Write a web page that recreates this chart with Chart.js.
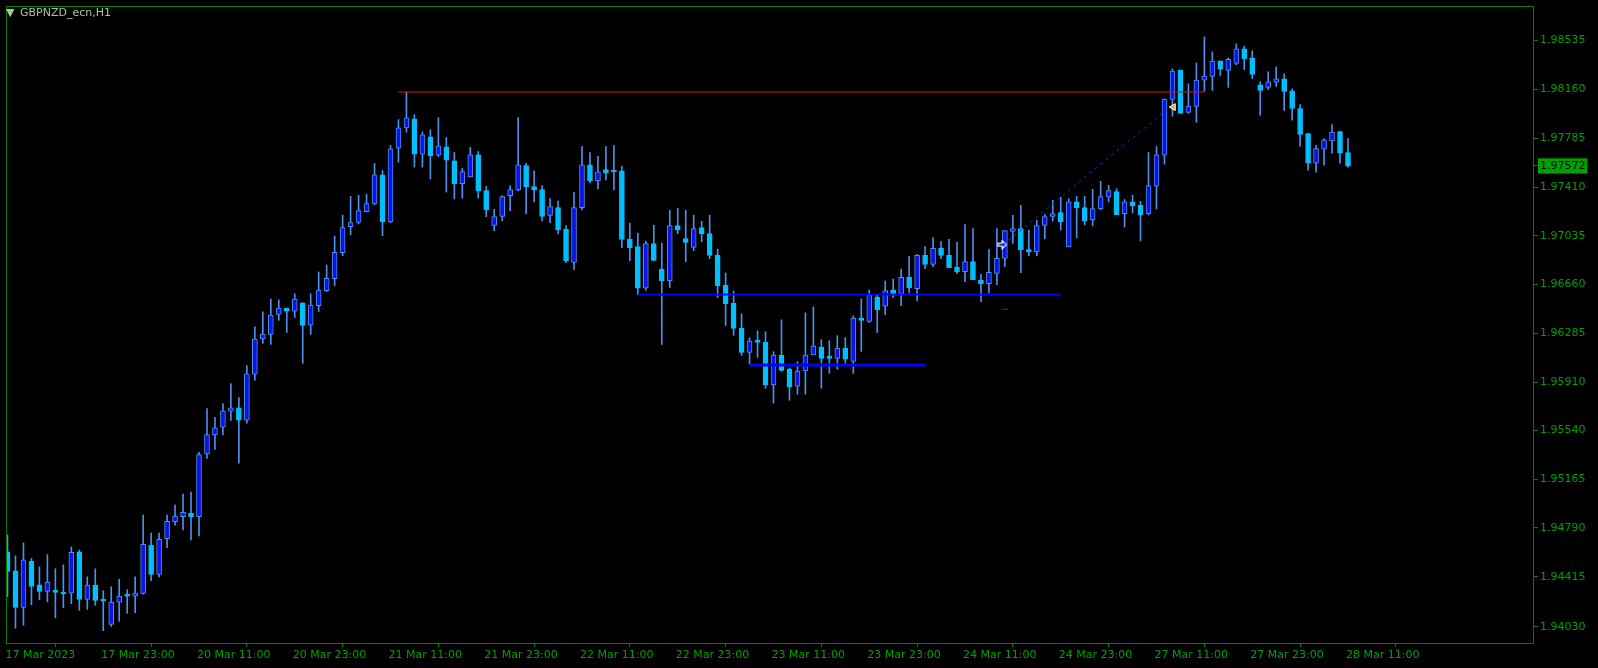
<!DOCTYPE html>
<html>
<head>
<meta charset="utf-8">
<script src="https://cdn.jsdelivr.net/npm/chart.js@4.4.0/dist/chart.umd.min.js"></script>
<style>
  html, body { margin: 0; padding: 0; background: #000; }
  #c { display: block; }
</style>
</head>
<body>
<canvas id="c" width="1598" height="668"></canvas>
<script>
// GBPNZD H1 candles, 17 Mar 11:00 -> 28 Mar 11:00
const opens = [
  1.94606, 1.94460, 1.94179, 1.94534, 1.94353, 1.94302, 1.94312, 1.94292, 1.94289, 1.94606, 1.94241, 1.94350,
  1.94238, 1.94049, 1.94220, 1.94276, 1.94266, 1.94287, 1.94659, 1.94432, 1.94708, 1.94838, 1.94876, 1.94902,
  1.94876, 1.95359, 1.95504, 1.95565, 1.95688, 1.95713, 1.95619, 1.95971, 1.96242, 1.96277, 1.96430, 1.96479,
  1.96456, 1.96520, 1.96349, 1.96499, 1.96614, 1.96706, 1.96905, 1.97106, 1.97137, 1.97221, 1.97280, 1.97504,
  1.97142, 1.97708, 1.97864, 1.97933, 1.97662, 1.97795, 1.97655, 1.97719, 1.97611, 1.97436, 1.97487, 1.97658,
  1.97382, 1.97114, 1.97183, 1.97344, 1.97387, 1.97574, 1.97413, 1.97390, 1.97191, 1.97252, 1.97084, 1.96831,
  1.97252, 1.97581, 1.97456, 1.97543, 1.97535, 1.97535, 1.97007, 1.96953, 1.96632, 1.96976, 1.96777, 1.96690,
  1.97114, 1.97014, 1.96945, 1.97099, 1.97053, 1.96884, 1.96654, 1.96517, 1.96325, 1.96139, 1.96226, 1.96218,
  1.95889, 1.96119, 1.96011, 1.95879, 1.95996, 1.96119, 1.96180, 1.96106, 1.96093, 1.96172, 1.96070, 1.96402,
  1.96377, 1.96565, 1.96494, 1.96619, 1.96591, 1.96716, 1.96629, 1.96884, 1.96815, 1.96938, 1.96884, 1.96792,
  1.96759, 1.96836, 1.96693, 1.96667, 1.96746, 1.96861, 1.97068, 1.97091, 1.96930, 1.96912, 1.97114, 1.97183,
  1.97213, 1.96950, 1.97297, 1.97251, 1.97157, 1.97241, 1.97333, 1.97374, 1.97205, 1.97297, 1.97269, 1.97203,
  1.97417, 1.97655, 1.98083, 1.98308, 1.97984, 1.98030, 1.98231, 1.98259, 1.98379, 1.98305, 1.98359, 1.98471,
  1.98402, 1.98196, 1.98175, 1.98216, 1.98242, 1.98150, 1.98012, 1.97821, 1.97593, 1.97701, 1.97764, 1.97836,
  1.97675
];
const highs = [
  1.94736, 1.94575, 1.94675, 1.94555, 1.94491, 1.94585, 1.94476, 1.94506, 1.94644, 1.94620, 1.94414, 1.94476,
  1.94307, 1.94338, 1.94396, 1.94315, 1.94414, 1.94889, 1.94751, 1.94751, 1.94889, 1.94966, 1.95050, 1.95065,
  1.95371, 1.95708, 1.95639, 1.95746, 1.95900, 1.95792, 1.96037, 1.96336, 1.96451, 1.96550, 1.96543, 1.96479,
  1.96589, 1.96520, 1.96589, 1.96757, 1.96811, 1.97033, 1.97194, 1.97338, 1.97346, 1.97354, 1.97591, 1.97537,
  1.97729, 1.97928, 1.98140, 1.97966, 1.97833, 1.97851, 1.97943, 1.97790, 1.97675, 1.97553, 1.97714, 1.97683,
  1.97415, 1.97239, 1.97344, 1.97420, 1.97944, 1.97591, 1.97535, 1.97420, 1.97321, 1.97301, 1.97114, 1.97369,
  1.97721, 1.97675, 1.97645, 1.97721, 1.97729, 1.97568, 1.97132, 1.97055, 1.96994, 1.97116, 1.96979, 1.97231,
  1.97247, 1.97231, 1.97193, 1.97147, 1.97193, 1.96933, 1.96749, 1.96611, 1.96435, 1.96251, 1.96305, 1.96297,
  1.96144, 1.96389, 1.96016, 1.96068, 1.96443, 1.96489, 1.96236, 1.96229, 1.96267, 1.96252, 1.96420, 1.96550,
  1.96619, 1.96581, 1.96688, 1.96703, 1.96780, 1.96877, 1.96892, 1.96953, 1.97022, 1.96991, 1.97007, 1.96984,
  1.97122, 1.97091, 1.96739, 1.96930, 1.97091, 1.97076, 1.97193, 1.97269, 1.97078, 1.97154, 1.97200, 1.97308,
  1.97331, 1.97320, 1.97338, 1.97338, 1.97392, 1.97453, 1.97422, 1.97397, 1.97313, 1.97346, 1.97300, 1.97675,
  1.97721, 1.98088, 1.98318, 1.98308, 1.98203, 1.98364, 1.98563, 1.98448, 1.98379, 1.98402, 1.98510, 1.98492,
  1.98456, 1.98219, 1.98295, 1.98333, 1.98280, 1.98165, 1.98043, 1.97821, 1.97731, 1.97782, 1.97889, 1.97836,
  1.97782
];
const lows = [
  1.94261, 1.94019, 1.94042, 1.94200, 1.94238, 1.94223, 1.94100, 1.94177, 1.94208, 1.94157, 1.94164, 1.94195,
  1.94001, 1.94032, 1.94072, 1.94134, 1.94139, 1.94280, 1.94384, 1.94414, 1.94639, 1.94812, 1.94774, 1.94698,
  1.94728, 1.95325, 1.95394, 1.95504, 1.95616, 1.95287, 1.95596, 1.95925, 1.96208, 1.96201, 1.96385, 1.96293,
  1.96408, 1.96055, 1.96277, 1.96453, 1.96607, 1.96652, 1.96882, 1.97042, 1.97126, 1.97218, 1.97272, 1.97035,
  1.97134, 1.97601, 1.97831, 1.97563, 1.97563, 1.97471, 1.97642, 1.97371, 1.97318, 1.97324, 1.97487, 1.97324,
  1.97181, 1.97073, 1.97150, 1.97227, 1.97380, 1.97204, 1.97295, 1.97150, 1.97135, 1.97050, 1.96828, 1.96775,
  1.97234, 1.97441, 1.97395, 1.97464, 1.97387, 1.96943, 1.96843, 1.96583, 1.96616, 1.96843, 1.96200, 1.96637,
  1.97050, 1.96836, 1.96920, 1.96989, 1.96859, 1.96560, 1.96346, 1.96269, 1.96116, 1.96047, 1.96101, 1.95863,
  1.95749, 1.95994, 1.95771, 1.95818, 1.95818, 1.96119, 1.95864, 1.95978, 1.96009, 1.96055, 1.95978, 1.96147,
  1.96369, 1.96292, 1.96430, 1.96560, 1.96499, 1.96598, 1.96537, 1.96782, 1.96797, 1.96859, 1.96790, 1.96744,
  1.96683, 1.96698, 1.96529, 1.96598, 1.96660, 1.96797, 1.96976, 1.96751, 1.96881, 1.96881, 1.97012, 1.97149,
  1.97080, 1.96950, 1.97019, 1.97119, 1.97111, 1.97234, 1.97295, 1.97198, 1.97103, 1.97211, 1.96996, 1.97195,
  1.97241, 1.97586, 1.97953, 1.97976, 1.97976, 1.97907, 1.98145, 1.98152, 1.98267, 1.98175, 1.98349, 1.98313,
  1.98244, 1.97961, 1.98160, 1.98183, 1.97999, 1.97923, 1.97724, 1.97540, 1.97524, 1.97578, 1.97670, 1.97593,
  1.97563
];
const closes = [
  1.94455, 1.94179, 1.94544, 1.94340, 1.94302, 1.94373, 1.94294, 1.94282, 1.94603, 1.94241, 1.94350, 1.94233,
  1.94228, 1.94220, 1.94266, 1.94266, 1.94289, 1.94664, 1.94432, 1.94703, 1.94841, 1.94881, 1.94909, 1.94876,
  1.95353, 1.95507, 1.95560, 1.95690, 1.95713, 1.95619, 1.95974, 1.96242, 1.96280, 1.96425, 1.96479, 1.96456,
  1.96548, 1.96346, 1.96502, 1.96617, 1.96709, 1.96908, 1.97099, 1.97137, 1.97229, 1.97282, 1.97504, 1.97142,
  1.97703, 1.97864, 1.97941, 1.97662, 1.97810, 1.97650, 1.97726, 1.97616, 1.97433, 1.97528, 1.97658, 1.97380,
  1.97234, 1.97183, 1.97336, 1.97390, 1.97581, 1.97410, 1.97387, 1.97183, 1.97260, 1.97081, 1.96841, 1.97252,
  1.97581, 1.97456, 1.97527, 1.97517, 1.97525, 1.97007, 1.96943, 1.96632, 1.96976, 1.96846, 1.96690, 1.97114,
  1.97081, 1.96984, 1.97091, 1.97050, 1.96884, 1.96652, 1.96514, 1.96323, 1.96139, 1.96226, 1.96216, 1.95889,
  1.96119, 1.96001, 1.95871, 1.95996, 1.96119, 1.96188, 1.96093, 1.96093, 1.96172, 1.96086, 1.96402, 1.96384,
  1.96581, 1.96468, 1.96614, 1.96588, 1.96716, 1.96637, 1.96884, 1.96815, 1.96938, 1.96884, 1.96790, 1.96759,
  1.96836, 1.96698, 1.96667, 1.96754, 1.96861, 1.97076, 1.97091, 1.96927, 1.96912, 1.97114, 1.97183, 1.97205,
  1.97142, 1.97297, 1.97249, 1.97149, 1.97244, 1.97336, 1.97382, 1.97198, 1.97297, 1.97267, 1.97195, 1.97420,
  1.97657, 1.98086, 1.98300, 1.97976, 1.98032, 1.98231, 1.98262, 1.98377, 1.98316, 1.98392, 1.98471, 1.98397,
  1.98275, 1.98152, 1.98219, 1.98242, 1.98145, 1.98014, 1.97815, 1.97593, 1.97706, 1.97772, 1.97833, 1.97670,
  1.97570
];

// axis labels
const dateLabels = ['17 Mar 2023', '17 Mar 23:00', '20 Mar 11:00', '20 Mar 23:00', '21 Mar 11:00',
  '21 Mar 23:00', '22 Mar 11:00', '22 Mar 23:00', '23 Mar 11:00', '23 Mar 23:00', '24 Mar 11:00',
  '24 Mar 23:00', '27 Mar 11:00', '27 Mar 23:00', '28 Mar 11:00'];
const barsPerLabel = 12;
const priceTicks = [1.98535, 1.98160, 1.97785, 1.97410, 1.97035, 1.96660, 1.96285,
  1.95910, 1.95540, 1.95165, 1.94790, 1.94415, 1.94030];
const lastPrice = 1.97572;

// drawn objects: [fromBar, toBar, price]
const redLevel = [49, 150, 1.98140];
const blueLevelA = [79, 132, 1.96583];
const blueLevelB = [93, 115, 1.96043];
const redDash = [124.55, 125.45, 1.96471];
const tradeLine = [[124.8, 1.96967], [145.6, 1.98020]];
const entryMark = [124.7, 1.96967];
const exitMark = [146.1, 1.98024];

const green = '#00a000';
const frameGreen = '#008000';
const wickColor = '#4d8fea';
const bullFill = '#0a14e6';
const bearFill = '#00bfff';

const idx = opens.map((_, i) => i);
const isBull = idx.map(i => closes[i] >= opens[i]);

// small arrow glyph for the entry mark
const arrowImg = document.createElement('canvas');
arrowImg.width = 10; arrowImg.height = 10;
(() => {
  const g = arrowImg.getContext('2d');
  g.beginPath();
  g.moveTo(1, 3.5); g.lineTo(4.5, 3.5); g.lineTo(4.5, 1); g.lineTo(9, 5);
  g.lineTo(4.5, 9); g.lineTo(4.5, 6.5); g.lineTo(1, 6.5); g.closePath();
  g.fillStyle = '#1020e0'; g.fill();
  g.strokeStyle = '#ffffff'; g.lineWidth = 1.2; g.stroke();
})();

const levelLine = (lvl, color, width, extra) => Object.assign({
  type: 'line',
  data: [{ x: lvl[0], y: lvl[2] }, { x: lvl[1], y: lvl[2] }],
  borderColor: color, borderWidth: width, pointRadius: 0, order: 0
}, extra || {});

// no automatic label padding: plot box is fixed like the terminal window
const noPad = s => { s.paddingTop = 0; s.paddingBottom = 0; s.paddingLeft = 0; s.paddingRight = 0; };

const framePlugin = {
  id: 'frame',
  afterDraw(chart) {
    const { ctx, chartArea: a } = chart;
    ctx.save();
    ctx.strokeStyle = frameGreen;
    ctx.lineWidth = 1;
    ctx.strokeRect(a.left + 0.5, a.top + 0.5, a.right - a.left - 1, a.bottom - a.top - 1);
    // symbol caption
    ctx.fillStyle = '#a9c4a9';
    ctx.font = '11px "DejaVu Sans", sans-serif';
    ctx.textBaseline = 'middle';
    ctx.fillText('\u25BC', 6, 13);
    ctx.fillText('GBPNZD_ecn,H1', 20, 13);
    ctx.restore();
  }
};

new Chart(document.getElementById('c'), {
  type: 'bar',
  data: {
    datasets: [
      levelLine(redLevel, '#d01818', 1),
      levelLine(blueLevelA, '#0000ff', 2),
      levelLine(blueLevelB, '#0000ff', 3),
      levelLine(redDash, '#b01010', 1),
      {
        type: 'line',
        data: tradeLine.map(p => ({ x: p[0], y: p[1] })),
        borderColor: '#2626e0', borderWidth: 1, borderDash: [3, 4], pointRadius: 0, order: 0
      },
      {
        type: 'line', showLine: false,
        data: [{ x: entryMark[0], y: entryMark[1] }],
        pointStyle: arrowImg, pointRadius: 5, order: 0
      },
      {
        type: 'line', showLine: false,
        data: [{ x: exitMark[0], y: exitMark[1] }],
        pointStyle: 'triangle', rotation: -90, pointRadius: 4,
        backgroundColor: '#e8a317', borderColor: '#ffffff', borderWidth: 1, order: 0
      },
      {
        label: 'body',
        data: idx.map(i => ({ x: i, y: [opens[i], closes[i]] })),
        backgroundColor: idx.map(i => isBull[i] ? bullFill : bearFill),
        borderColor: idx.map(i => isBull[i] ? wickColor : bearFill),
        borderWidth: 1, borderSkipped: false, barThickness: 5, minBarLength: 2,
        grouped: false, order: 1
      },
      {
        label: 'wick',
        data: idx.map(i => ({ x: i, y: [lows[i], highs[i]] })),
        backgroundColor: wickColor, borderWidth: 0, barThickness: 1,
        grouped: false, order: 2
      }
    ]
  },
  options: {
    responsive: false,
    animation: false,
    devicePixelRatio: 1,
    layout: { padding: { left: 2, top: 3, right: 0, bottom: 0 } },
    plugins: { legend: { display: false }, tooltip: { enabled: false } },
    scales: {
      x: {
        type: 'linear', bounds: 'data', offset: false,
        min: -0.1875, max: 191.3125,
        afterBuildTicks: s => { s.ticks = dateLabels.map((_, k) => ({ value: k * barsPerLabel })); },
        afterFit: s => { s.height = 24; noPad(s); },
        grid: { drawOnChartArea: false, drawTicks: true, tickLength: 3, color: frameGreen },
        border: { display: false },
        ticks: {
          autoSkip: false, maxRotation: 0, align: 'start', padding: 2, labelOffset: -2,
          color: green, font: { family: '"DejaVu Sans", sans-serif', size: 11 },
          callback: (v, k) => dateLabels[k]
        }
      },
      y: {
        position: 'right', bounds: 'data',
        min: 1.93898, max: 1.98801,
        afterBuildTicks: s => {
          s.ticks = priceTicks.map(v => ({ value: v })).concat([{ value: lastPrice }]);
        },
        afterFit: s => { s.width = 64; noPad(s); },
        grid: { drawOnChartArea: false, drawTicks: true, tickLength: 4, color: frameGreen },
        border: { display: false },
        ticks: {
          padding: 2,
          color: c => c.tick && c.tick.value === lastPrice ? '#000000' : green,
          showLabelBackdrop: c => !!(c.tick && c.tick.value === lastPrice),
          backdropColor: green,
          backdropPadding: { x: 2, y: 1 },
          font: { family: '"DejaVu Sans", sans-serif', size: 11 },
          callback: v => v.toFixed(5)
        }
      }
    }
  },
  plugins: [framePlugin]
});
</script>
</body>
</html>
